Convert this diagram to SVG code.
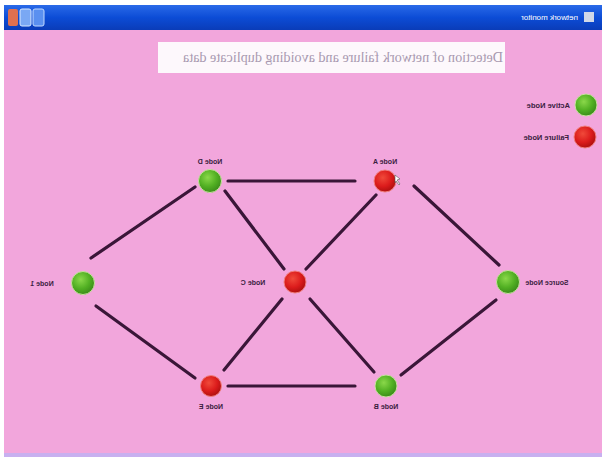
<svg xmlns="http://www.w3.org/2000/svg" width="602" height="461" viewBox="0 0 602 461">
<defs>
<radialGradient id="gG" cx="40%" cy="35%" r="65%"><stop offset="0" stop-color="#8ad84a"/><stop offset="0.6" stop-color="#52b023"/><stop offset="1" stop-color="#3c8e1a"/></radialGradient>
<radialGradient id="gR" cx="40%" cy="35%" r="65%"><stop offset="0" stop-color="#f04a3a"/><stop offset="0.6" stop-color="#dc1c1c"/><stop offset="1" stop-color="#b01010"/></radialGradient>
<linearGradient id="bar" x1="0" y1="0" x2="0" y2="1"><stop offset="0" stop-color="#2a6ae8"/><stop offset="0.5" stop-color="#0c4cd6"/><stop offset="1" stop-color="#0a3cb8"/></linearGradient>
</defs>
<style>
.lbl{font-family:"Liberation Sans",Arial,sans-serif;font-size:7px;font-weight:bold;fill:#3a2040}
.lg{font-family:"Liberation Sans",Arial,sans-serif;font-size:7.5px;font-weight:bold;fill:#3a2040}
.edge{stroke:#3a1638;stroke-width:3.2;stroke-linecap:round}
.ok{fill:url(#gG);stroke:#c8e0a0;stroke-width:1}
.bad{fill:url(#gR);stroke:#f08080;stroke-width:1}
</style>
<rect width="602" height="461" fill="#ffffff"/>
<rect x="4" y="5" width="598" height="452" fill="#f2a6dc"/>
<rect x="4" y="5" width="598" height="25" fill="url(#bar)"/>
<rect x="4" y="453" width="598" height="4" fill="#c8b0f0"/>
<g id="titlebar">
<rect x="8" y="9" width="10" height="17" rx="2" fill="#e07050"/>
<rect x="20" y="9" width="11" height="17" rx="2" fill="#7aa8f4" stroke="#d8e8ff" stroke-width="1"/>
<rect x="33" y="9" width="11" height="17" rx="2" fill="#5a90f0" stroke="#c0d8ff" stroke-width="1"/>
<text transform="translate(578,20) scale(-1,1)" font-family="Liberation Sans,Arial,sans-serif" font-size="8" fill="#ffffff">network monitor</text>
<rect x="584" y="12" width="10" height="10" fill="#d0d8e8"/>
</g>
<g id="title">
<rect x="158" y="42" width="347" height="31" fill="#fdf8fc"/>
<text transform="translate(503,62) scale(-1,1)" font-family="Liberation Serif,Times New Roman,serif" font-size="14" textLength="320" lengthAdjust="spacingAndGlyphs" fill="#a898b0">Detection of network failure and avoiding duplicate data</text>
</g>
<g id="legend">
<g id="legend-active"><circle cx="586" cy="105" r="11" class="ok"/><text class="lg" transform="translate(570,108) scale(-1,1)">Active Node</text></g>
<g id="legend-failure"><circle cx="585" cy="137" r="11" class="bad"/><text class="lg" transform="translate(569,140) scale(-1,1)">Failure Node</text></g>
</g>
<g id="connectors">
<line class="edge" x1="91" y1="258" x2="195" y2="187"/>
<line class="edge" x1="228" y1="181" x2="355" y2="181"/>
<line class="edge" x1="225" y1="191" x2="284" y2="269"/>
<line class="edge" x1="376" y1="195" x2="306" y2="269"/>
<line class="edge" x1="414" y1="186" x2="499" y2="265"/>
<line class="edge" x1="96" y1="306" x2="195" y2="378"/>
<line class="edge" x1="282" y1="299" x2="224" y2="370"/>
<line class="edge" x1="310" y1="299" x2="374" y2="372"/>
<line class="edge" x1="228" y1="386" x2="355" y2="386"/>
<line class="edge" x1="496" y1="300" x2="401" y2="375"/>
</g>
<g id="node-d"><circle cx="210" cy="181" r="11.5" class="ok"/><text class="lbl" text-anchor="middle" transform="translate(210,164) scale(-1,1)">Node D</text></g>
<g id="node-a"><circle cx="385" cy="181" r="11" class="bad"/><path d="M395,175 l5,4 l-3,1 l3,4 l-1,1 l-3,-4 l-1,2 z" fill="#ffffff" stroke="#555" stroke-width="0.6"/><text class="lbl" text-anchor="middle" transform="translate(385,164) scale(-1,1)">Node A</text></g>
<g id="node-1"><circle cx="83" cy="283" r="11.5" class="ok"/><text class="lbl" text-anchor="middle" transform="translate(42,286) scale(-1,1)">Node 1</text></g>
<g id="node-c"><circle cx="295" cy="282" r="11" class="bad"/><text class="lbl" text-anchor="middle" transform="translate(253,285) scale(-1,1)">Node C</text></g>
<g id="node-source"><circle cx="508" cy="282" r="11.5" class="ok"/><text class="lbl" text-anchor="middle" transform="translate(547,285) scale(-1,1)">Source Node</text></g>
<g id="node-e"><circle cx="211" cy="386" r="10.5" class="bad"/><text class="lbl" text-anchor="middle" transform="translate(211,409) scale(-1,1)">Node E</text></g>
<g id="node-b"><circle cx="386" cy="386" r="11" class="ok"/><text class="lbl" text-anchor="middle" transform="translate(386,409) scale(-1,1)">Node B</text></g>
</svg>
